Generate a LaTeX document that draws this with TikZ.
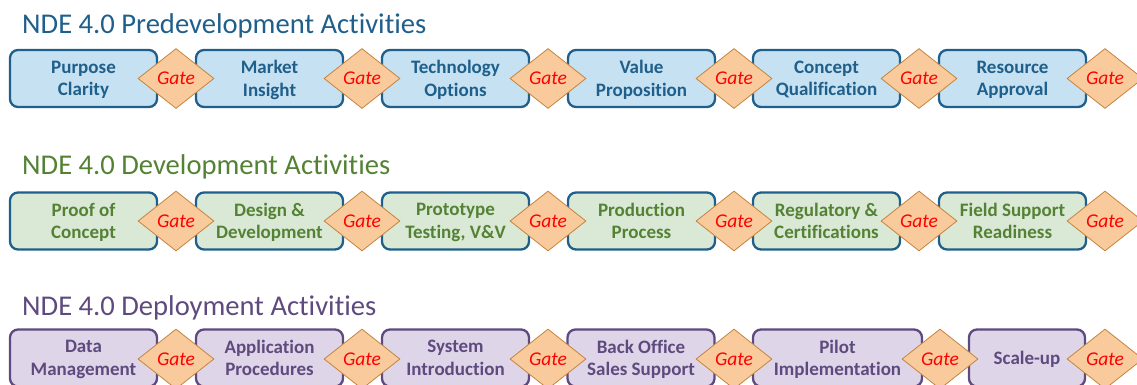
\documentclass[tikz,border=0pt]{standalone}
\usepackage{fontspec}
\setmainfont[Ligatures={NoCommon,NoRare}]{Carlito}
\usepackage{tikz}
\usetikzlibrary{shapes.geometric}

\definecolor{preblue}{HTML}{1F5F8B}
\definecolor{prefill}{HTML}{C6E1F1}
\definecolor{devgreen}{HTML}{548235}
\definecolor{devfill}{HTML}{DAE9D5}
\definecolor{deppurple}{HTML}{5E4A7E}
\definecolor{depfill}{HTML}{DED6E8}
\definecolor{gatefill}{HTML}{F9CB9C}
\definecolor{gateline}{HTML}{C4843E}

\begin{document}
\begin{tikzpicture}[
  x=1pt, y=-1pt,
  title/.style = {anchor=base west, inner sep=0, font=\fontsize{28.6}{30}\selectfont},
  activity/.style = {rounded corners=8pt, line width=2.3pt, minimum width=147pt,
                     minimum height=57pt, inner sep=0, align=center, text depth=0pt,
                     font=\bfseries\fontsize{19}{22.5}\selectfont},
  predev/.style = {activity, draw=preblue, fill=prefill, text=preblue},
  dev/.style = {activity, draw=preblue, fill=devfill, text=devgreen},
  deploy/.style = {activity, draw=deppurple, fill=depfill, text=deppurple},
  gate/.style = {diamond, draw=gateline, fill=gatefill, line width=0.8pt,
                 minimum width=76pt, minimum height=60pt, inner sep=0,
                 text=red, font=\itshape\fontsize{19.5}{22}\selectfont}
]

% Frame
\useasboundingbox (0,0) rectangle (1137,384);

% Titles
\node[title, text=preblue] (pretitle) at (22,33) {NDE 4.0 Predevelopment Activities};
\node[title, text=devgreen] (devtitle) at (22,174) {NDE 4.0 Development Activities};
\node[title, text=deppurple] (deptitle) at (22,315) {NDE 4.0 Deployment Activities};

% Predevelopment row
\node[predev] (purpose) at (83.5,78.5) {Purpose\\Clarity};
\node[predev] (market) at (269.5,78.5) {Market\\Insight};
\node[predev] (techopt) at (455.5,78.5) {Technology\\Options};
\node[predev] (valueprop) at (641.5,78.5) {Value\\Proposition};
\node[predev] (conceptq) at (826.5,78.5) {Concept\\Qualification};
\node[predev] (resource) at (1012.5,78.5) {Resource\\Approval};

% Development row
\node[dev] (proof) at (83.5,221) {Proof of\\Concept};
\node[dev] (design) at (269.5,221) {Design \&\\Development};
\node[dev] (prototype) at (455.5,221) {Prototype\\Testing, V\&V};
\node[dev] (production) at (641.5,221) {Production\\Process};
\node[dev] (regulatory) at (826.5,221) {Regulatory \&\\Certifications};
\node[dev] (fieldsup) at (1012.5,221) {Field Support\\Readiness};

% Deployment row
\node[deploy] (datamgmt) at (83.5,358) {Data\\Management};
\node[deploy] (appproc) at (269.5,358) {Application\\Procedures};
\node[deploy] (sysintro) at (455.5,358) {System\\Introduction};
\node[deploy] (backoffice) at (641,358) {Back Office\\Sales Support};
\node[deploy, minimum width=169pt] (pilot) at (837.5,358) {Pilot\\Implementation};
\node[deploy, minimum width=116pt] (scaleup) at (1027,358) {Scale-up};

% Gates
\foreach \gx [count=\i] in {176,362,548,734,919,1105} {
  \node[gate] (pgate\i) at (\gx,78.5) {Gate};
  \node[gate] (dgate\i) at (\gx,221) {Gate};
}
\foreach \gx [count=\i] in {176,362,548,734,940,1105}
  \node[gate] (ygate\i) at (\gx,359) {Gate};

\end{tikzpicture}
\end{document}
